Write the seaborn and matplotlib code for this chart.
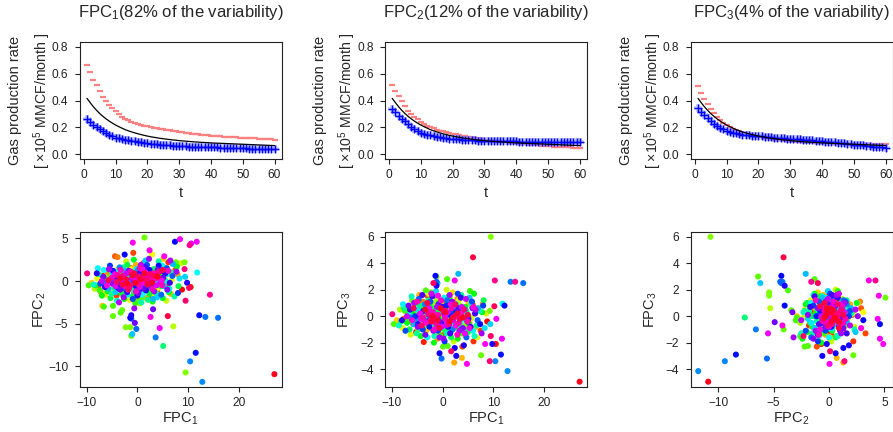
import matplotlib
matplotlib.use("Agg")
import matplotlib.pyplot as plt
import numpy as np
import pandas as pd
import seaborn as sns
from matplotlib.ticker import FormatStrFormatter

# months on production
t = list(range(1, 61))

# mean production curve (x 10^5 MMCF/month)
mean_curve = [0.417, 0.385, 0.355, 0.328, 0.304, 0.283, 0.264, 0.247, 0.232, 0.218,
              0.206, 0.195, 0.184, 0.175, 0.167, 0.160, 0.153, 0.147, 0.141, 0.136,
              0.131, 0.127, 0.123, 0.119, 0.116, 0.113, 0.110, 0.107, 0.105, 0.102,
              0.100, 0.098, 0.096, 0.094, 0.092, 0.091, 0.089, 0.088, 0.087, 0.085,
              0.084, 0.083, 0.082, 0.081, 0.080, 0.079, 0.078, 0.077, 0.076, 0.075,
              0.074, 0.073, 0.072, 0.071, 0.070, 0.069, 0.068, 0.067, 0.066, 0.065]

# mean +/- a multiple of each eigenfunction
fpc1_plus = [0.667, 0.610, 0.557, 0.515, 0.470, 0.430, 0.395, 0.370, 0.343, 0.320,
             0.300, 0.280, 0.265, 0.253, 0.240, 0.232, 0.225, 0.218, 0.214, 0.208,
             0.203, 0.198, 0.194, 0.190, 0.186, 0.182, 0.178, 0.174, 0.170, 0.167,
             0.164, 0.161, 0.158, 0.155, 0.152, 0.150, 0.147, 0.145, 0.143, 0.140,
             0.138, 0.136, 0.134, 0.132, 0.131, 0.129, 0.128, 0.126, 0.125, 0.123,
             0.122, 0.121, 0.119, 0.118, 0.117, 0.115, 0.114, 0.113, 0.111, 0.110]
fpc1_minus = [0.262, 0.240, 0.220, 0.204, 0.190, 0.172, 0.157, 0.142, 0.133, 0.125,
              0.119, 0.113, 0.108, 0.104, 0.100, 0.096, 0.092, 0.088, 0.085, 0.081,
              0.079, 0.076, 0.074, 0.072, 0.070, 0.068, 0.066, 0.064, 0.063, 0.061,
              0.060, 0.059, 0.058, 0.057, 0.056, 0.055, 0.054, 0.053, 0.053, 0.052,
              0.051, 0.051, 0.050, 0.049, 0.048, 0.048, 0.047, 0.046, 0.045, 0.044,
              0.044, 0.043, 0.043, 0.042, 0.041, 0.041, 0.040, 0.040, 0.039, 0.039]
fpc2_plus = [0.515, 0.470, 0.435, 0.395, 0.360, 0.326, 0.297, 0.280, 0.260, 0.240,
             0.226, 0.213, 0.203, 0.193, 0.184, 0.177, 0.170, 0.164, 0.159, 0.155,
             0.150, 0.145, 0.140, 0.135, 0.130, 0.126, 0.122, 0.118, 0.114, 0.110,
             0.107, 0.104, 0.100, 0.097, 0.093, 0.091, 0.088, 0.086, 0.083, 0.081,
             0.079, 0.077, 0.075, 0.073, 0.071, 0.069, 0.067, 0.065, 0.063, 0.061,
             0.060, 0.058, 0.057, 0.055, 0.054, 0.052, 0.051, 0.050, 0.048, 0.047]
fpc2_minus = [0.341, 0.314, 0.287, 0.265, 0.245, 0.223, 0.204, 0.187, 0.174, 0.162,
              0.154, 0.147, 0.141, 0.135, 0.130, 0.126, 0.123, 0.120, 0.117, 0.115,
              0.113, 0.111, 0.109, 0.107, 0.105, 0.104, 0.103, 0.102, 0.101, 0.100,
              0.100, 0.099, 0.099, 0.098, 0.098, 0.097, 0.097, 0.097, 0.096, 0.096,
              0.095, 0.095, 0.094, 0.094, 0.093, 0.093, 0.092, 0.092, 0.091, 0.091,
              0.091, 0.090, 0.090, 0.090, 0.089, 0.089, 0.089, 0.088, 0.088, 0.088]
fpc3_plus = [0.508, 0.456, 0.412, 0.375, 0.339, 0.307, 0.280, 0.253, 0.233, 0.216,
             0.202, 0.190, 0.180, 0.171, 0.162, 0.155, 0.148, 0.142, 0.136, 0.130,
             0.126, 0.122, 0.118, 0.114, 0.110, 0.108, 0.105, 0.103, 0.100, 0.098,
             0.096, 0.095, 0.093, 0.092, 0.090, 0.089, 0.088, 0.086, 0.085, 0.083,
             0.082, 0.082, 0.081, 0.080, 0.079, 0.079, 0.078, 0.077, 0.077, 0.076,
             0.076, 0.076, 0.075, 0.075, 0.075, 0.075, 0.074, 0.074, 0.074, 0.074]
fpc3_minus = [0.344, 0.319, 0.292, 0.270, 0.250, 0.228, 0.213, 0.199, 0.187, 0.177,
              0.169, 0.162, 0.157, 0.152, 0.147, 0.144, 0.141, 0.139, 0.137, 0.135,
              0.133, 0.131, 0.129, 0.127, 0.125, 0.123, 0.121, 0.119, 0.117, 0.115,
              0.114, 0.112, 0.111, 0.109, 0.108, 0.106, 0.104, 0.102, 0.099, 0.097,
              0.095, 0.093, 0.091, 0.089, 0.087, 0.085, 0.082, 0.079, 0.076, 0.073,
              0.071, 0.068, 0.066, 0.063, 0.061, 0.058, 0.056, 0.053, 0.051, 0.048]

variability = [82, 12, 4]

# FPC scores of the wells, in plotting order (colour follows the order),
# two lines per colour band
fpc1 = [8.8, -2.1, 1.5, -5.2, 3.4, 10.5, -0.6, 4.8, -3.7, 0.7, -6.8, 2.6, 6.1, -1.3, 5.9, -4.1, 0.2, 7.5, -0.8, -2.9, 3.9, -4.4, 1.2, -7.7,
        -1.5, 2.2, -3.3, 0.6, 4.1, -4.6, 1.4, -0.3,
        -3.9, 0.4, 5.3, -2.4, 2.9, -5.8, 7.9, -1.0, 1.8, -7.2, 4.4, 2.3, -0.3, 6.6, -4.6, 3.8, -1.9, 0.9, -6.9, 5.1, -3.2, -9.0, 2.0, -0.5,
        3.0, -2.0, 0.0, -4.2, 5.6, 1.1, -1.2, 2.5,
        -5.5, 2.9, 0.1, -2.7, 4.1, -7.9, 1.6, -1.5, 6.8, -3.8, 3.2, -0.9, 8.6, -6.3, 0.8, 5.7, -2.2, -4.9, 2.2, 7.1, -1.1, 4.6, -8.4, 0.5,
        -0.7, 3.5, -3.0, 1.0, -5.0, 4.3, -1.9, 0.4,
        9.5, -3.4, -2.3, 1.9, -1.4, 9.3, -6.0, 1.4, 7.6, -4.8, -3.0, -1.2, 0.1, 1.0, -3.3, -9.6, 0.9, -4.8, -6.6, 3.6, -7.4, 5.4, -0.4, 2.8,
        2.0, -2.8, 0.8, -4.0, 3.9, -0.6, 5.2, -1.6,
        -5.9, -2.6, 3.0, -7.0, 0.3, 6.2, -1.7, 4.5, -4.3, 1.2, -8.2, 7.8, -0.7, 2.4, -3.1, 5.0, -5.3, 0.6, -2.0, 3.3, -6.5, 8.1, -1.0, 1.7,
        0.2, -3.6, 2.9, -1.2, 4.7, -5.4, 1.5, -0.4,
        5.1, -4.5, 2.1, -7.6, 0.0, 6.7, -2.8, 3.7, -5.1, 1.3, -0.8, 7.3, -3.6, 4.2, -6.1, 0.8, -1.6, 5.6, -4.0, 2.7, -8.6, 6.3, -0.2, 3.5,
        -2.3, 1.9, -0.1, 3.3, -4.4, 0.7, 5.8, -1.4,
        11.8, -6.6, 1.0, -3.0, 4.9, -7.8, 0.3, 6.0, -2.0, 2.5, -5.0, 8.3, -1.3, 3.9, 9.4, -4.3, 1.6, -1.0, 5.3, -2.5, 3.1, 7.0, -5.7, 0.5,
        1.2, -3.1, 2.3, -0.5, 4.4, -2.1, 0.1, -5.2,
        12.8, -3.5, 10.4, 2.0, 3.6, -6.2, 13.4, 0.9, 15.9, -0.2, -1.2, 4.7, -4.7, 6.9, -2.4, 1.9, -7.3, 5.8, -0.9, 3.0, -3.9, 8.0, 0.4, -5.4,
        -1.0, 2.6, -3.8, 0.8, 4.9, -0.3, 1.7, -2.6,
        11.5, -3.2, 12.2, 1.1, 7.4, -2.5, -1.4, -0.6, 2.7, 2.4, 4.2, 9.8, -1.2, -8.0, 5.5, -4.8, 0.0, 3.6, -6.4, 6.4, -2.0, 1.5, -4.0, 0.6,
        0.4, -2.2, 3.1, -4.5, 1.3, -0.8, 5.1, -1.7,
        -0.5, 3.1, -3.4, 1.9, -6.7, 4.0, -1.8, 0.2, 5.9, -4.9, 2.3, -2.7, 7.7, -0.6, 1.4, -5.6, 3.3, -1.1, 6.5, -3.6, 0.7, -7.0, 4.6, -2.2,
        2.1, -3.0, 0.5, -1.3, 3.8, -4.3, 1.0, -0.2,
        4.4, -2.6, 11.7, 0.9, 10.6, -4.4, 8.4, 4.8, -0.9, 2.4, 5.3, 2.6, -6.0, 1.6, -1.6, 3.7, -3.3, 6.1, -0.3, -5.0, 2.9, -1.9, 0.5, 4.9,
        -0.9, 1.8, -2.4, 3.2, 0.2, -3.9, 2.6, -1.2,
        14.3, 10.3, -2.9, 1.2, -9.9, 4.3, -1.4, 9.3, 2.5, -4.1, 9.5, 0.3, 1.7, -1.8, 3.4, 10.2, -5.7, -0.6, 5.0, -3.0, 6.0, 2.0, -2.2, 0.6,
        -1.0, 2.9, -3.4, 1.4, -2.0, 4.0, -0.4, 27.0]
fpc2 = [-1.0, 0.4, -0.6, 0.1, 1.2, -0.7, -1.4, 0.3, -0.9, 0.9, 0.6, -1.8, 2.2, 1.5, -0.4, -1.7, 0.2, 1.3, 3.3, -0.3, -1.1, 2.9, 2.1, -0.8,
        0.6, -0.3, 0.9, -0.8, 0.5, -0.4, 1.1, 0.0,
        2.8, -0.9, 1.6, -1.2, 0.5, 0.9, 0.8, 0.1, -2.0, -1.3, -0.3, 1.3, 1.9, -1.5, -0.5, 0.7, 0.7, -0.2, -2.9, 2.6, 1.1, -0.2, -1.0, 0.5,
        0.2, -0.6, 0.9, 0.3, 0.7, -0.5, 1.4, -1.0,
        -0.2, 3.1, -1.3, 0.8, -0.8, 0.3, 1.7, -2.2, 0.1, 1.4, -1.6, -0.4, 2.1, -1.6, 0.6, -2.3, 2.3, -1.0, 0.2, -5.3, 1.2, 1.0, -0.9, -2.6,
        0.7, -0.2, -0.7, 0.4, 0.6, 1.5, -0.1, -0.9,
        -10.7, 0.2, -5.4, 0.9, -5.4, 2.2, 0.4, 5.1, 2.2, -4.1, -3.4, -6.4, -2.2, -1.9, -3.7, -0.5, -1.3, -2.9, -3.0, -0.5, -1.1, 0.8, -2.6, -1.2,
        0.1, 1.0, -0.4, -0.2, 0.9, -1.0, -0.1, 0.5,
        -1.2, -2.1, -2.4, -1.7, 1.1, -1.3, -0.7, 0.5, 0.7, -0.8, -0.5, 1.7, 2.5, -1.5, -1.5, -2.0, -2.0, 0.3, 1.9, 1.4, 0.2, -0.6, -1.8, 0.6,
        -0.2, 0.4, 1.2, -0.5, -0.6, 0.2, 0.0, 1.1,
        -7.6, -0.8, -2.2, 0.8, -0.6, 1.0, 1.6, -1.4, -1.5, 2.0, -1.1, -1.8, 0.6, 2.3, -0.6, -2.5, 0.8, 0.0, -2.3, 1.0, -0.4, -0.9, 1.4, -0.2,
        -0.3, 0.6, -1.0, -0.4, 1.1, 0.2, 0.8, 0.0,
        1.0, 1.3, -1.6, 0.0, 1.8, 1.5, -0.3, -1.1, -1.6, 0.4, 1.0, 0.3, -0.1, -1.9, 0.5, -1.3, 2.4, -6.2, -0.6, 1.2, -2.1, 2.0, -0.9, 1.6,
        -0.8, 0.5, 1.1, 0.3, -0.3, -1.2, 1.3, 0.0,
        -11.8, 1.6, -9.4, -0.7, -6.6, -0.2, -4.2, 1.3, -4.3, -5.6, -4.4, -1.6, 0.4, 0.6, -0.9, 1.9, -0.3, 1.5, -2.1, 0.1, -0.4, -1.4, -1.0, 1.8,
        0.8, -0.1, -0.8, 0.6, 1.2, -0.6, -1.1, 0.2,
        -8.4, -0.6, -4.0, 0.0, 4.6, 3.1, -4.3, 0.6, -0.6, 1.3, 1.8, -0.2, -4.0, 0.9, 0.9, 1.2, -1.7, 0.8, -0.7, -0.2, -1.3, 1.6, 0.3, -0.5,
        0.9, -0.4, 0.3, 0.6, -0.9, 0.1, 0.4, 1.2,
        -4.9, -3.3, -1.0, -0.3, 0.5, 1.3, 1.0, -1.4, -1.0, -0.3, 2.6, -1.9, 1.1, -3.2, 0.7, 1.4, -1.2, 0.3, 2.4, -2.5, 1.9, 0.0, -0.1, 0.9,
        0.4, 0.2, -0.7, 1.1, -0.5, -0.6, 1.4, 0.0,
        -5.5, 0.3, 4.6, -0.2, 4.4, 0.8, 4.9, 0.05, 4.5, 3.6, 2.9, -4.2, -0.5, 1.0, -0.8, 0.3, 1.3, 1.2, -1.2, 0.4, -0.9, -0.3, 1.5, -0.5,
        0.5, 0.0, -0.6, 0.9, -0.4, 0.7, 0.4, 1.0,
        -1.6, 4.2, 0.6, 0.3, 0.9, 1.1, -0.5, 1.4, 0.8, -0.1, -2.3, 0.5, 0.1, -1.0, 0.6, -0.8, 0.1, 0.9, 1.3, -0.4, -4.1, -0.4, 0.2, 0.2,
        0.7, -0.2, 0.3, 0.9, -0.3, 0.5, -0.2, -10.9]
fpc3 = [-0.4, 0.8, -0.3, -1.2, 0.5, -2.1, 0.2, -0.9, -1.95, 1.1, 0.3, -0.7, -1.9, -0.5, 0.9, 0.4, -1.4, -1.1, -1.3, 1.5, -2.3, 0.6, 0.1, -0.2,
        0.3, -0.5, -0.2, 0.6, 0.2, 0.5, -0.8, -0.1,
        1.1, 0.6, -0.5, -0.9, 1.3, -0.6, 0.9, -1.7, 0.3, 0.7, -1.4, -3.5, 0.9, -0.8, 1.6, -3.15, 0.2, -0.6, 0.0, 1.0, -1.1, -0.3, 1.8, 0.4,
        0.4, -0.3, 0.7, -0.8, -0.2, 0.1, 0.9, -0.9,
        0.9, 0.3, -1.0, 1.7, 0.6, -0.9, -0.2, 0.5, -1.6, -0.4, 1.2, -1.2, 0.2, -1.4, 2.0, -0.1, -0.8, 0.1, -1.9, 0.6, 1.3, -0.3, 0.5, -0.5,
        -0.6, 0.8, 0.2, -0.2, 0.4, -0.7, 1.0, 0.3,
        6.0, -0.7, 1.8, 0.8, 1.55, 0.4, 1.2, 1.4, -2.95, -1.0, 0.45, 3.0, -2.3, -2.25, 1.95, -0.6, 2.8, -0.1, -0.3, -1.3, 0.4, 1.9, -1.5, 0.0,
        0.5, -0.4, -0.9, 0.7, 0.1, -0.2, -0.6, 0.3,
        0.2, 0.9, -1.7, -0.5, -0.3, 1.7, -2.0, 0.7, -1.5, 1.5, -0.4, 0.3, 1.0, -0.8, 0.0, -1.2, 1.0, -1.1, 0.6, -0.6, -1.0, 1.2, 0.3, -1.6,
        0.3, -0.1, 0.6, -0.7, 0.4, 0.0, 1.1, -0.4,
        -0.1, 0.8, 0.4, 0.6, -0.9, -0.7, 1.2, 1.6, -1.3, 0.2, -0.4, 0.4, -0.2, -1.0, 1.5, -1.3, -1.5, 1.0, 0.3, 0.9, -0.7, -1.5, 0.6, -0.5,
        0.1, -0.6, 0.5, 0.0, 0.3, -0.3, 0.7, -0.9,
        0.95, 0.1, 1.0, -1.6, 0.1, 0.9, 1.4, -1.1, -0.5, 0.7, 0.5, -0.9, 1.9, -0.2, -0.6, -0.9, -1.2, 2.5, 1.4, 0.3, 3.2, 0.6, -0.6, -0.4,
        0.2, 0.6, -0.1, -0.7, 0.5, 0.0, 0.4, -0.3,
        -4.15, 0.9, -3.4, -1.0, -1.0, -0.1, 2.6, 1.2, 2.5, -3.2, 2.6, -1.6, 1.3, -0.3, 1.1, 0.4, -1.1, 1.1, -1.1, 1.7, -1.0, 0.8, -1.9, 0.0,
        -0.2, 0.3, 0.4, 0.8, -0.4, -0.5, 0.0, -0.8,
        -2.9, 0.4, 0.8, -0.8, -0.6, -0.3, 3.05, -2.8, -3.0, -2.4, -2.2, -2.1, 2.3, -0.3, -0.8, -0.6, 0.7, 1.4, 0.5, 0.2, 1.5, -1.3, 1.6, 0.1,
        0.2, -0.4, 0.6, 0.1, -0.6, 0.9, -0.2, -0.1,
        -0.45, 0.3, -1.4, 1.1, 0.8, -0.9, -1.1, -1.7, 0.6, -0.8, 0.0, 0.1, -1.3, -1.6, 1.6, 1.0, -1.1, 0.7, 0.5, -0.3, -0.7, 0.0, 1.3, 1.7,
        -0.3, 0.5, 0.0, -0.5, 0.7, -0.2, 0.3, -0.8,
        -1.3, 0.6, -1.7, -0.5, -0.2, 0.2, -2.1, -3.6, 1.55, 2.7, -0.9, -0.7, -0.3, 0.9, -1.0, 0.2, -0.5, 0.7, 1.2, 1.1, -1.4, 0.3, -0.2, -0.4,
        0.1, 0.6, -0.3, -0.5, 0.4, -0.1, 0.0, -0.6,
        2.6, 2.7, 0.2, -0.6, 0.15, 0.5, -0.2, -3.4, 0.9, -0.7, -1.5, 0.4, -2.65, 2.5, -0.2, 0.75, 0.6, -0.9, 0.1, 1.0, 4.45, -0.1, -0.4, 0.3,
        -0.3, 0.2, 0.5, -0.4, 0.0, -0.1, 0.6, -4.95]

sns.set_style("ticks")
plt.rcParams["font.family"] = ["Liberation Sans", "DejaVu Sans"]
plt.rcParams["mathtext.default"] = "regular"
plt.rcParams["axes.edgecolor"] = "#222222"
plt.rcParams["axes.linewidth"] = 0.8

W, H = 893, 432
fig = plt.figure(figsize=(W / 100, H / 100), dpi=100)

col_left = [79.5, 384.7, 690.5]
col_w = 202.5


def add_ax(x0, y_top, y_bot):
    return fig.add_axes([x0 / W, 1 - y_bot / H, col_w / W, (y_bot - y_top) / H])


def style(ax):
    for s in ax.spines.values():
        s.set_visible(True)
    ax.tick_params(length=3.4, width=0.8, labelsize=8.6, colors="#222222", pad=3.5)
    ax.tick_params(axis="y", pad=4.6)


curves = [(fpc1_plus, fpc1_minus), (fpc2_plus, fpc2_minus), (fpc3_plus, fpc3_minus)]
for k, (hi, lo) in enumerate(curves):
    ax = add_ax(col_left[k], 42, 159)
    sns.lineplot(x=t, y=mean_curve, color="black", linewidth=0.9, ax=ax)
    sns.scatterplot(x=t, y=hi, marker="_", color=(1.0, 0.5, 0.5), s=16, linewidth=1.6, ax=ax)
    sns.scatterplot(x=t, y=lo, marker="+", color=(0.5, 0.55, 1.0), s=26, linewidth=2.6, alpha=0.5, ax=ax)
    sns.scatterplot(x=t, y=lo, marker="+", color="blue", s=26, linewidth=1.0, ax=ax)
    ax.set_xlim(-1.36, 62.36)
    ax.set_ylim(-0.035, 0.837)
    ax.set_xticks(range(0, 61, 10))
    ax.set_yticks([0.0, 0.2, 0.4, 0.6, 0.8])
    ax.yaxis.set_major_formatter(FormatStrFormatter("%.1f"))
    style(ax)
    ax.set_title(f"FPC$_{k + 1}$({variability[k]}% of the variability)", fontsize=12, pad=18)
    ax.set_xlabel("t", fontsize=10.5, va="baseline")
    ax.xaxis.set_label_coords(0.5, -0.325)
    ax.set_ylabel("[ ×10$^5$ MMCF/month ]", fontsize=10.2, va="center")
    ax.yaxis.set_label_coords(-0.185, 0.5)
    ax.text(-0.318, 0.5, "Gas production rate", rotation=90, fontsize=10.5,
            ha="center", va="center", transform=ax.transAxes)

wells = pd.DataFrame({"FPC1": fpc1, "FPC2": fpc2, "FPC3": fpc3})
wells["order"] = np.arange(len(wells))

pairs = [("FPC1", "FPC2"), ("FPC1", "FPC3"), ("FPC2", "FPC3")]
xlims = [(-11.4, 28.5), (-11.4, 28.5), (-12.5, 5.78)]
ylims = [(-12.4, 5.8), (-5.35, 6.4), (-5.35, 6.4)]
xticks = [[-10, 0, 10, 20], [-10, 0, 10, 20], [-10, -5, 0, 5]]
yticks = [[-10, -5, 0, 5], [-4, -2, 0, 2, 4, 6], [-4, -2, 0, 2, 4, 6]]

for k, (xv, yv) in enumerate(pairs):
    ax = add_ax(col_left[k], 231.5, 387)
    sns.scatterplot(data=wells, x=xv, y=yv, hue="order", palette="hsv",
                    hue_norm=(0, len(wells)), s=19, linewidth=0, legend=False, ax=ax)
    ax.set_xlim(*xlims[k])
    ax.set_ylim(*ylims[k])
    ax.set_xticks(xticks[k])
    ax.set_yticks(yticks[k])
    style(ax)
    ax.set_xlabel(f"FPC$_{xv[-1]}$", fontsize=10.5, va="baseline")
    ax.xaxis.set_label_coords(0.5, -0.23)
    ax.set_ylabel(f"FPC$_{yv[-1]}$", fontsize=10.5, va="center")
    ax.yaxis.set_label_coords(-0.198, 0.5)

fig.savefig("out.png", dpi=100)
